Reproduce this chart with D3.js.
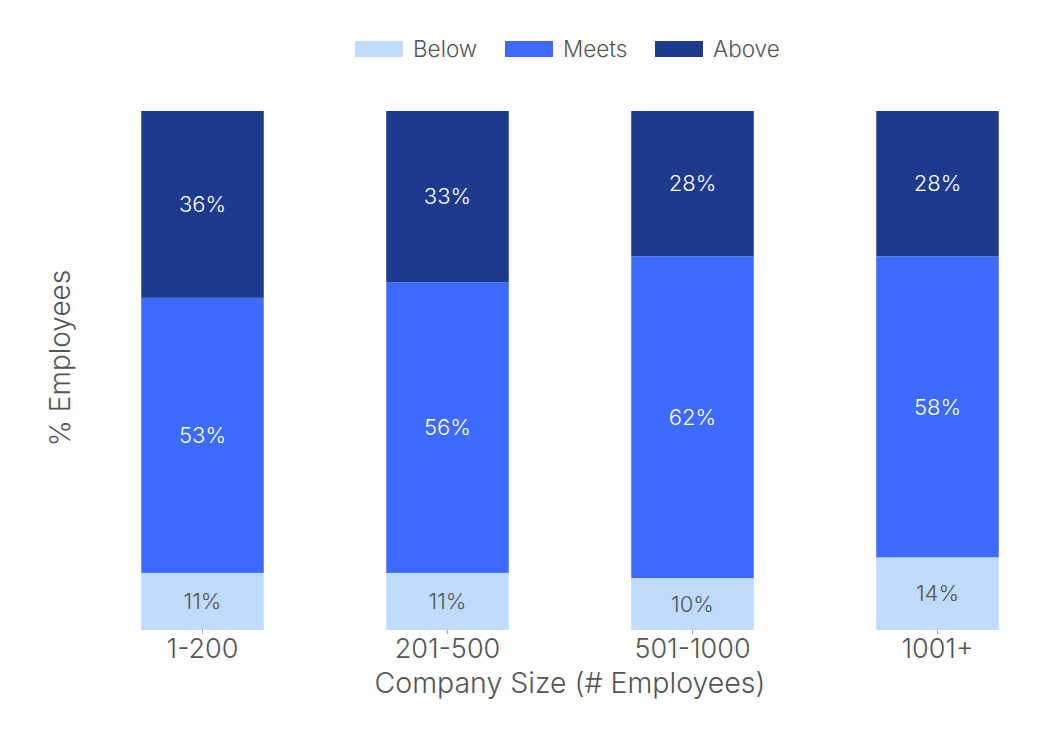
<!DOCTYPE html>
<html><head><meta charset="utf-8">
<script src="https://cdn.jsdelivr.net/npm/d3@7"></script>
<style>body{margin:0;background:#fff;} text{font-family:Inter, "Open Sans", sans-serif;}</style>
</head><body>
<svg id="chart" width="1060" height="734"></svg>
<script>
const categories = ["1-200", "201-500", "501-1000", "1001+"];
const seriesNames = ["Below", "Meets", "Above"];
const below = [11, 11, 10, 14];
const meets = [53, 56, 62, 58];
const above = [36, 33, 28, 28];
const colors = ["#bfdbfe", "#3d6bff", "#1d3a8c"];
const labelColors = ["#555555", "#ffffff", "#ffffff"];

const svg = d3.select("#chart");
const x = d3.scaleBand().domain(categories).range([80, 1060]).paddingInner(0.5).paddingOuter(0.25);
const y = d3.scaleLinear().domain([0, 100]).range([630, 111]);

const data = categories.map((c, i) => ({cat: c, Below: below[i], Meets: meets[i], Above: above[i]}));
const stack = d3.stack().keys(seriesNames)(data);

const g = svg.append("g");
stack.forEach((layer, li) => {
  g.selectAll(null).data(layer).enter().append("rect")
    .attr("x", d => x(d.data.cat))
    .attr("width", x.bandwidth())
    .attr("y", d => y(d[1]))
    .attr("height", d => y(d[0]) - y(d[1]))
    .attr("fill", colors[li]);
  g.selectAll(null).data(layer).enter().append("text")
    .attr("x", d => x(d.data.cat) + x.bandwidth() / 2)
    .attr("y", d => (y(d[0]) + y(d[1])) / 2)
    .attr("dy", "0.35em")
    .attr("text-anchor", "middle")
    .attr("font-size", 22)
    .attr("font-weight", 300)
    .attr("fill", labelColors[li])
    .text(d => (d[1] - d[0]) + "%");
});

const xAxis = svg.append("g").attr("transform", "translate(0,630)")
  .call(d3.axisBottom(x).tickSize(4).tickPadding(5));
xAxis.select(".domain").remove();
xAxis.selectAll(".tick line").attr("stroke", "#aaa");
xAxis.selectAll(".tick text").attr("font-size", 27).attr("fill", "#555").attr("font-family", "Inter, sans-serif").attr("font-weight", 300);

svg.append("text").attr("x", 570).attr("y", 693).attr("text-anchor", "middle")
  .attr("font-size", 28.5).attr("font-weight", 300).attr("fill", "#555").text("Company Size (# Employees)");
svg.append("text").attr("transform", "translate(70,358) rotate(-90)").attr("text-anchor", "middle")
  .attr("font-size", 28).attr("font-weight", 300).attr("fill", "#555").text("% Employees");

// legend
const legendX = [355, 505, 655];
const leg = svg.append("g");
seriesNames.forEach((s, i) => {
  leg.append("rect").attr("x", legendX[i]).attr("y", 41).attr("width", 48).attr("height", 16).attr("fill", colors[i]);
  leg.append("text").attr("x", legendX[i] + 58).attr("y", 49).attr("dy", "0.35em")
    .attr("font-size", 22.5).attr("font-weight", 300).attr("fill", "#555").text(s);
});
</script>
</body></html>
